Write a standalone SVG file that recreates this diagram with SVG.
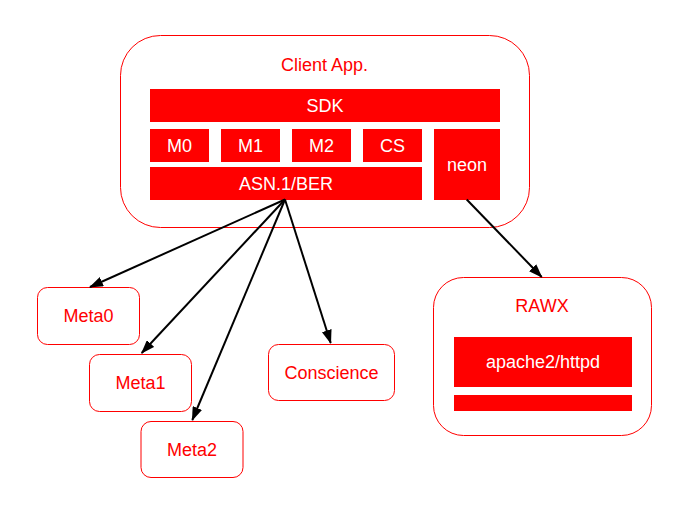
<svg xmlns="http://www.w3.org/2000/svg" width="693" height="509" viewBox="0 0 693 509">
<style>
.box{fill:#fff;stroke:#ff0000;stroke-width:1}
.bar{fill:#ff0000;stroke:none}
.lbl{font-family:"Liberation Sans",Arial,sans-serif;font-size:18px;fill:#ff0000;text-anchor:middle;dominant-baseline:central}
.wl{font-family:"Liberation Sans",Arial,sans-serif;font-size:18px;fill:#ffffff;text-anchor:middle;dominant-baseline:central}
.edge{stroke:#000;stroke-width:2;fill:none;marker-end:url(#ah)}
</style>
<defs>
<marker id="ah" markerWidth="14" markerHeight="10" refX="13" refY="5" orient="auto" markerUnits="userSpaceOnUse">
<path d="M0,0 L14,5 L0,10 Z" fill="#000"/>
</marker>
</defs>
<rect width="693" height="509" fill="#fff"/>
<g id="client">
<rect class="box" x="120.5" y="35.5" width="409" height="192" rx="40"/>
<text class="lbl" x="324.5" y="65">Client App.</text>
<rect class="bar" x="150" y="89" width="350" height="33"/>
<text class="wl" x="325" y="105.5">SDK</text>
<rect class="bar" x="150" y="129" width="59" height="33"/>
<text class="wl" x="179.5" y="145.5">M0</text>
<rect class="bar" x="221" y="129" width="59" height="33"/>
<text class="wl" x="250.5" y="145.5">M1</text>
<rect class="bar" x="292" y="129" width="59" height="33"/>
<text class="wl" x="321.5" y="145.5">M2</text>
<rect class="bar" x="363" y="129" width="59" height="33"/>
<text class="wl" x="392.5" y="145.5">CS</text>
<rect class="bar" x="150" y="167" width="272" height="33"/>
<text class="wl" x="286" y="183.5">ASN.1/BER</text>
<rect class="bar" x="434" y="129" width="66" height="71"/>
<text class="wl" x="467" y="164.5">neon</text>
</g>
<g id="meta0">
<rect class="box" x="37.5" y="287.5" width="102" height="57" rx="10"/>
<text class="lbl" x="88.5" y="316">Meta0</text>
</g>
<g id="meta1">
<rect class="box" x="89.5" y="354.5" width="102" height="57" rx="10"/>
<text class="lbl" x="140.5" y="383">Meta1</text>
</g>
<g id="meta2">
<rect class="box" x="141" y="421.5" width="102" height="56" rx="10"/>
<text class="lbl" x="192" y="450">Meta2</text>
</g>
<g id="conscience">
<rect class="box" x="268.5" y="344.5" width="126" height="56" rx="10"/>
<text class="lbl" x="331.5" y="373">Conscience</text>
</g>
<g id="rawx">
<rect class="box" x="433.5" y="277.5" width="218" height="158" rx="30"/>
<text class="lbl" x="542" y="306">RAWX</text>
<rect class="bar" x="454" y="337" width="178" height="50"/>
<text class="wl" x="543" y="362">apache2/httpd</text>
<rect class="bar" x="454" y="395" width="178" height="16"/>
</g>
<g id="connectors">
<line class="edge" x1="285" y1="199.5" x2="90" y2="287"/>
<line class="edge" x1="285" y1="199.5" x2="141.7" y2="353"/>
<line class="edge" x1="285" y1="199.5" x2="192.3" y2="420"/>
<line class="edge" x1="285" y1="199.5" x2="330.7" y2="343"/>
<line class="edge" x1="466.7" y1="199.5" x2="541.7" y2="277"/>
</g>
</svg>
